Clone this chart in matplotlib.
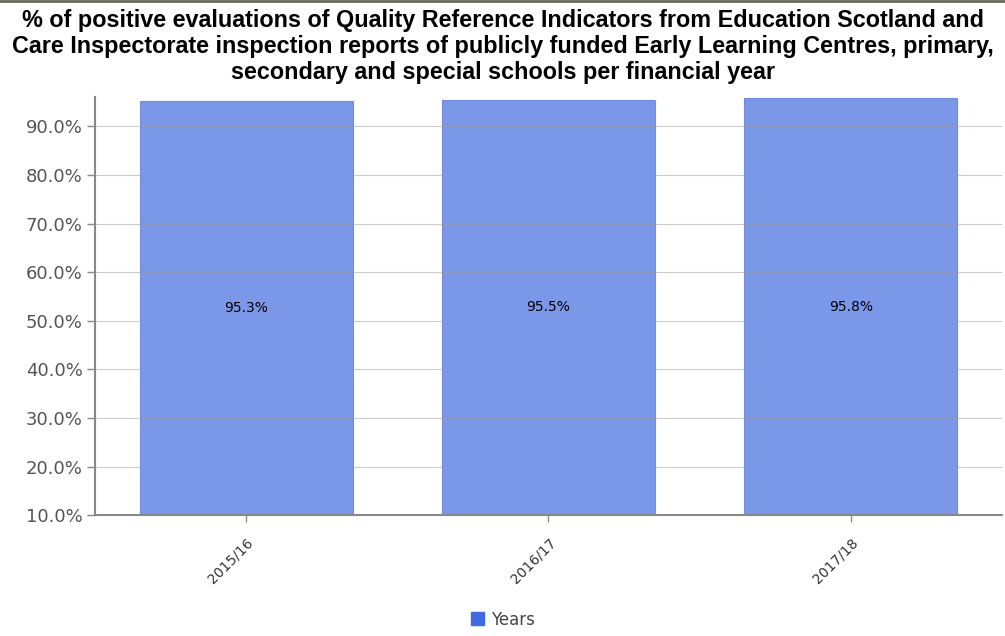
import matplotlib
matplotlib.use("Agg")
import matplotlib.pyplot as plt
from matplotlib.patches import Patch

years = ["2015/16", "2016/17", "2017/18"]
positive_pct = [95.3, 95.5, 95.8]
y_ticks = [10, 20, 30, 40, 50, 60, 70, 80, 90]

title = ("% of positive evaluations of Quality Reference Indicators from Education Scotland and\n"
         "Care Inspectorate inspection reports of publicly funded Early Learning Centres, primary,\n"
         "secondary and special schools per financial year")

fig = plt.figure(figsize=(10.05, 6.36), dpi=100)
ax = fig.add_axes([0.0945, 0.19, 0.9025, 0.657])

x = range(len(years))
ax.bar(x, positive_pct, width=0.705, bottom=0, color="#7b97e8", edgecolor="#6f8ce0",
       linewidth=0.8, zorder=1)
for i, v in enumerate(positive_pct):
    ax.text(i, (10 + v) / 2, f"{v:.1f}%", ha="center", va="center", fontsize=10, color="black", zorder=3)

ax.set_xlim(-0.5, 2.5)
ax.set_ylim(10, 96)
ax.set_yticks(y_ticks)
ax.set_yticklabels([f"{t:.1f}%" for t in y_ticks], fontsize=13, color="#555555")
ax.set_xticks(list(x))
ax.set_xticklabels(years, rotation=45, ha="right", va="top", rotation_mode="anchor",
                   fontsize=10, color="#333333")
ax.tick_params(axis="y", length=6, color="#888888", width=1, pad=3)
ax.tick_params(axis="x", length=5, color="#888888", width=1, pad=10)
ax.grid(axis="y", color="#999999", linewidth=0.8, alpha=0.5, zorder=2)
ax.set_axisbelow(False)
for s in ["top", "right"]:
    ax.spines[s].set_visible(False)
ax.spines["left"].set_color("#888888")
ax.spines["bottom"].set_color("#888888")
ax.spines["left"].set_linewidth(1.5)
ax.spines["bottom"].set_linewidth(1.5)

fig.text(0.5, 0.986, title, ha="center", va="top", fontsize=16.8, fontweight="bold",
         linespacing=1.16, family="Liberation Sans")

fig.legend(handles=[Patch(color="#4169e1", label="Years")], loc="lower center",
           bbox_to_anchor=(0.5, -0.012), frameon=False, fontsize=12, handlelength=0.8,
           handleheight=0.8, handletextpad=0.4, labelcolor="#444444")

# thin border along the top edge
fig.add_artist(plt.Line2D([0, 1], [0.998, 0.998], color="#6b6b5a", linewidth=2,
                          transform=fig.transFigure))

fig.savefig("out.png", dpi=100)
